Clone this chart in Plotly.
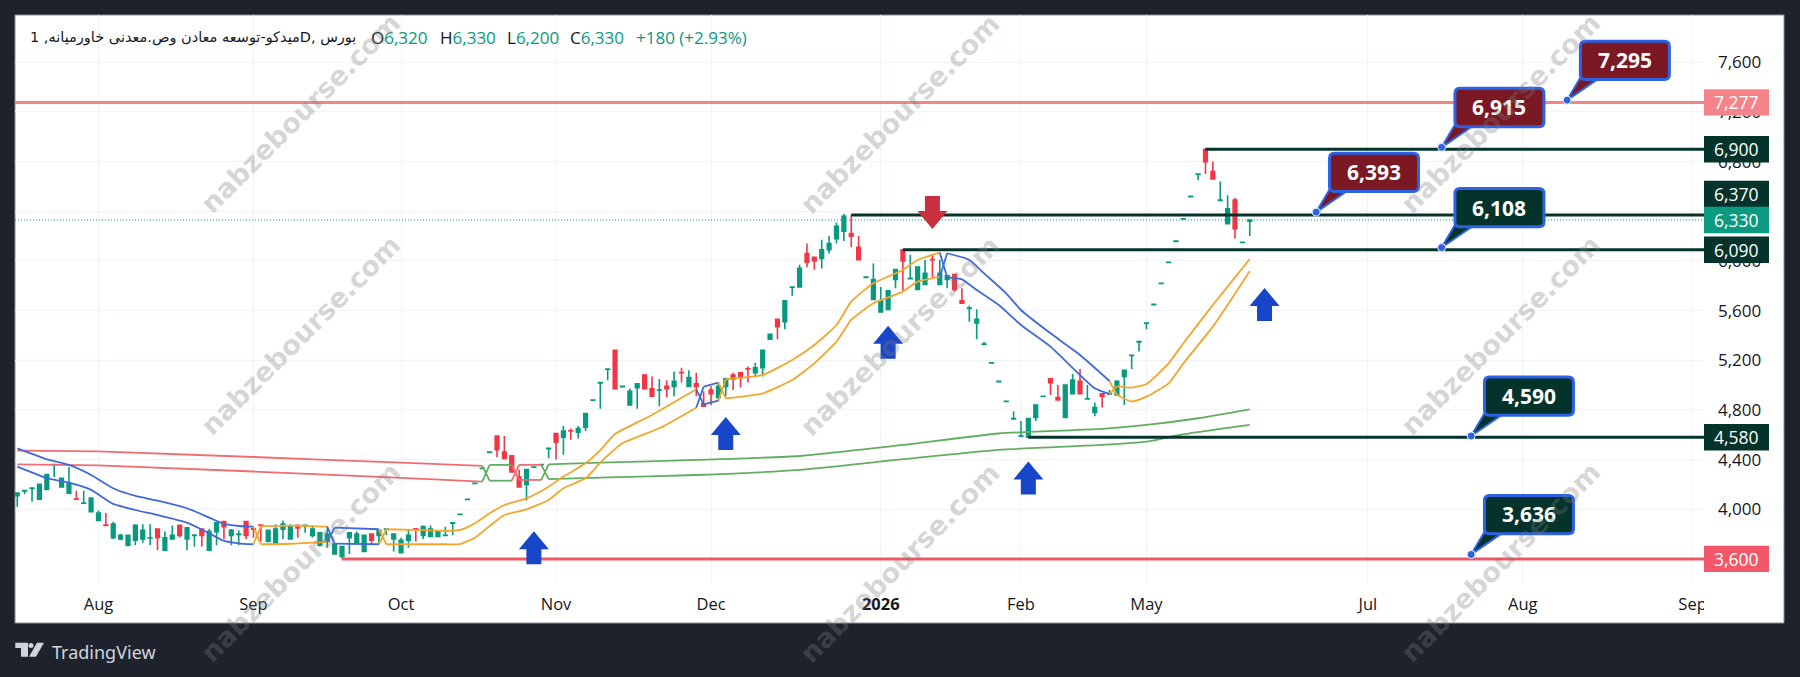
import plotly.graph_objects as go

# Daily OHLC, one value per session
opens = [4110,4148,4168,4080,4160,4358,4180,4130,4082,4048,
         3980,3910,3872,3770,3760,3710,3750,3760,3768,3840,
         3670,3760,3870,3760,3788,3840,3670,3820,3900,3790,
         3798,3900,3842,3872,3740,3730,3840,3760,3870,3868,
         3790,3710,3740,3640,3620,3770,3730,3660,3800,3790,
         3838,3760,3650,3750,3842,3790,3780,3780,3788,3888,
         3958,4078,4208,4328,4458,4590,4460,4430,4260,4200,
         4338,4358,4488,4610,4580,4632,4620,4660,4878,5018,
         5128,5280,4988,4840,4980,5080,4970,4958,4990,4990,
         5102,4990,5010,4850,4960,4900,4990,5080,5100,5132,
         5100,5140,5370,5530,5510,5788,5790,6060,6030,6020,
         6090,6180,6240,6220,6110,5868,5690,5590,5610,5850,
         6090,5858,5770,5810,6012,5810,5850,5890,5680,5618,
         5500,5328,5178,5028,4868,4728,4588,4580,4740,4908,
         5050,4900,4740,4930,5030,4888,4780,4930,4928,4920,
         5070,5238,5348,5498,5648,5818,5988,6158,6338,6518,
         6698,6900,6720,6488,6300,6490,6148,6320]
highs = [4130,4150,4170,4200,4280,4360,4250,4340,4150,4150,
         4090,3990,3970,3900,3800,3790,3880,3880,3880,3840,
         3820,3870,3870,3850,3800,3840,3840,3890,3900,3840,
         3830,3900,3860,3880,3830,3880,3910,3880,3870,3870,
         3870,3810,3860,3720,3700,3810,3820,3790,3800,3830,
         3840,3800,3770,3840,3850,3870,3870,3820,3860,3890,
         3960,4080,4210,4330,4460,4590,4590,4430,4320,4320,
         4340,4360,4490,4610,4670,4650,4670,4770,4880,5020,
         5130,5280,4990,4970,5010,5090,5070,5050,5040,5110,
         5140,5120,5100,4950,4990,5020,5060,5100,5100,5150,
         5180,5280,5410,5530,5680,5790,5970,6140,6030,6170,
         6200,6310,6380,6370,6200,5870,5980,5790,5760,5930,
         6090,6050,5950,6010,6050,6010,5880,5890,5780,5640,
         5610,5350,5180,5030,4870,4790,4710,4730,4840,4910,
         5050,5000,5000,5090,5130,5000,4860,4930,4960,5040,
         5120,5240,5350,5500,5650,5820,5990,6160,6340,6520,
         6700,6900,6800,6640,6530,6510,6150,6330]
lows = [4020,4120,4060,4080,4160,4260,4180,4130,4080,4048,
        3980,3910,3870,3760,3750,3700,3710,3730,3710,3670,
        3670,3760,3770,3670,3700,3700,3670,3710,3760,3710,
        3710,3760,3770,3740,3740,3710,3760,3760,3770,3810,
        3770,3700,3690,3640,3600,3640,3730,3660,3720,3720,
        3790,3660,3650,3690,3740,3760,3780,3780,3788,3790,
        3958,4078,4208,4328,4458,4420,4410,4300,4180,4070,
        4338,4358,4410,4400,4440,4560,4570,4630,4878,4810,
        5040,4970,4988,4840,4810,4970,4910,4830,4900,4910,
        5020,4990,4910,4830,4840,4870,4910,4960,4980,5020,
        5070,5070,5370,5370,5450,5720,5790,5950,5930,5940,
        6060,6140,6160,6110,6010,5868,5690,5590,5610,5780,
        5760,5858,5770,5810,5870,5810,5780,5750,5660,5510,
        5370,5328,5178,5028,4868,4728,4588,4580,4710,4908,
        4920,4880,4740,4930,4930,4888,4750,4820,4928,4920,
        4840,5130,5270,5450,5648,5818,5988,6158,6338,6518,
        6650,6700,6660,6488,6300,6180,6148,6200]
closes = [4130,4150,4170,4200,4280,4360,4250,4210,4080,4050,
          4090,3970,3870,3880,3790,3790,3870,3830,3770,3770,
          3770,3790,3790,3850,3790,3790,3820,3890,3860,3830,
          3800,3790,3840,3870,3830,3840,3880,3860,3850,3870,
          3840,3810,3800,3720,3700,3810,3800,3790,3750,3830,
          3840,3800,3750,3790,3840,3860,3840,3820,3790,3890,
          3960,4080,4210,4330,4460,4480,4410,4300,4180,4320,
          4340,4360,4490,4540,4630,4630,4650,4770,4880,5020,
          5130,4970,4990,4950,5010,4970,4910,4960,4970,5030,
          5100,5060,4990,4830,4930,4990,5050,5050,5070,5130,
          5140,5280,5410,5470,5680,5790,5940,5990,6000,6090,
          6140,6280,6360,6200,6010,5870,5850,5680,5760,5930,
          6000,5860,5950,5900,6010,5900,5880,5770,5660,5620,
          5530,5330,5180,5030,4870,4730,4590,4730,4840,4910,
          5020,4880,5000,5040,4930,4890,4820,4910,4930,5030,
          5120,5240,5350,5500,5650,5820,5990,6160,6340,6520,
          6700,6800,6660,6490,6420,6260,6150,6330]
bar_index = list(range(len(opens)))

# Axis ticks
month_bars = [11, 32, 52, 73, 94, 117, 136, 153, 183, 204, 227]
month_labels = ["Aug", "Sep", "Oct", "Nov", "Dec", "<b>2026</b>", "Feb", "May", "Jul", "Aug", "Sep"]
price_ticks = [7600, 7200, 6800, 6400, 6000, 5600, 5200, 4800, 4400, 4000]

# Slow channel (two lines, colour follows trend)
RED_BAND, GREEN_BAND, BLUE_BAND, ORANGE_BAND = "#ee6d72", "#62ad62", "#4169dd", "#f3a62b"
slow_segments = [
    (RED_BAND, [0, 11, 32, 52, 63], [4472, 4466, 4421, 4375, 4349]),
    (RED_BAND, [0, 11, 32, 52, 63], [4361, 4353, 4304, 4252, 4222]),
    (GREEN_BAND, [63, 64, 67], [4349, 4230, 4230]),
    (GREEN_BAND, [63, 64, 67], [4222, 4357, 4357]),
    (RED_BAND, [67, 68, 71], [4230, 4357, 4357]),
    (RED_BAND, [67, 68, 71], [4357, 4236, 4236]),
    (GREEN_BAND, [71, 72, 79, 92, 106, 120, 133, 147, 153, 157, 163, 167],
     [4357, 4242, 4255, 4276, 4317, 4403, 4478, 4518, 4544, 4593, 4647, 4679]),
    (GREEN_BAND, [71, 72, 79, 92, 106, 120, 133, 147, 153, 160, 167],
     [4236, 4362, 4375, 4397, 4429, 4518, 4610, 4647, 4679, 4733, 4805]),
]

# Fast channel
fast_segments = [
    (BLUE_BAND, [0, 4, 7, 10, 13, 16, 19, 23, 26, 28, 30, 32],
     [4491, 4402, 4357, 4276, 4169, 4107, 4070, 4008, 3933, 3882, 3865, 3860]),
    (BLUE_BAND, [0, 4, 7, 10, 13, 16, 19, 23, 26, 28, 30, 32],
     [4343, 4249, 4214, 4156, 4043, 3994, 3954, 3892, 3806, 3745, 3726, 3718]),
    (ORANGE_BAND, [32, 33, 37, 42], [3860, 3718, 3722, 3737]),
    (ORANGE_BAND, [32, 33, 37, 42], [3718, 3863, 3868, 3860]),
    (BLUE_BAND, [42, 43, 49], [3737, 3852, 3839]),
    (BLUE_BAND, [42, 43, 49], [3860, 3723, 3718]),
    (ORANGE_BAND, [49, 50, 55, 58, 60, 62, 64, 66, 69, 72, 74, 77, 79, 81, 86, 92],
     [3718, 3839, 3832, 3825, 3833, 3887, 3967, 4034, 4088, 4182, 4263, 4370, 4477, 4606, 4759, 4966]),
    (ORANGE_BAND, [49, 50, 55, 58, 60, 62, 64, 66, 69, 72, 74, 77, 79, 82, 87, 92],
     [3839, 3718, 3718, 3718, 3720, 3771, 3865, 3954, 3999, 4075, 4169, 4249, 4375, 4531, 4652, 4818]),
    (BLUE_BAND, [92, 93, 95], [4818, 4988, 5020]),
    (BLUE_BAND, [92, 93, 95], [4966, 4845, 4875]),
    (ORANGE_BAND, [95, 96, 101, 105, 108, 111, 113, 116, 120, 122, 125],
     [5020, 4894, 4934, 5041, 5175, 5350, 5525, 5659, 5753, 5833, 5874]),
    (ORANGE_BAND, [95, 96, 101, 105, 108, 111, 113, 116, 120, 122, 125],
     [4875, 5047, 5082, 5202, 5323, 5484, 5672, 5820, 5927, 6008, 6067]),
    (BLUE_BAND, [125, 126, 129, 131, 134, 136, 140, 144, 148],
     [5874, 6062, 6008, 5900, 5739, 5605, 5417, 5243, 5033]),
    (BLUE_BAND, [125, 126, 128, 130, 133, 136, 140, 146, 148],
     [6067, 5868, 5852, 5766, 5645, 5484, 5310, 4974, 4928]),
    (ORANGE_BAND, [148, 149, 151, 153, 156, 158, 162, 164, 167],
     [5033, 4920, 4868, 4907, 5014, 5175, 5471, 5645, 5919]),
    (ORANGE_BAND, [148, 149, 151, 153, 156, 158, 162, 164, 167],
     [4928, 4990, 4980, 5009, 5175, 5337, 5645, 5793, 6016]),
]

# Horizontal levels drawn from a pivot bar to the price scale
DEEP_GREEN = "#03332b"
level_values = [7277, 6900, 6370, 6090, 4580, 3600]
level_starts = [-1, 161, 113, 120, 137, 44]
level_colors = ["#f0858a", DEEP_GREEN, DEEP_GREEN, DEEP_GREEN, DEEP_GREEN, "#ef5666"]
last_close = closes[-1]

# Price-scale tags (value, fill, upward nudge in px where tags would collide)
tag_values = [7277, 6900, 6370, 6330, 6090, 4580, 3600]
tag_fills = ["#f5848a", DEEP_GREEN, DEEP_GREEN, "#0b9a80", DEEP_GREEN, DEEP_GREEN, "#f2586a"]
tag_nudges = [0, 0, 21, 0, 0, 0, 0]

# Callouts on the projected levels
callout_bars = [210, 193, 176, 193, 197, 197]
callout_values = [7295, 6915, 6393, 6108, 4590, 3636]
callout_fills = ["#7a1823", "#7a1823", "#7a1823", DEEP_GREEN, DEEP_GREEN, DEEP_GREEN]

# Signal arrows
up_arrow_bars = [70, 96, 118, 137, 169]
up_arrow_prices = [3690, 4610, 5345, 4252, 5650]
down_arrow_bars = [124]
down_arrow_prices = [6390]

# Header line
symbol_title = "میدکو-توسعه معادن وص.معدنی خاورمیانه, 1D, بورس"
ohlc_letters = ["O", "H", "L", "C"]
ohlc_texts = ["6,320", "6,330", "6,200", "6,330"]
change_text = "+180 (+2.93%)"

WIDTH, HEIGHT = 1800, 677
PLOT_L, PLOT_R, PLOT_T, PLOT_B = 15, 1704, 15, 583
X_RANGE = [-0.31, 228.55]
Y_RANGE = [3406, 7981]
GREEN, RED = "#089981", "#f23645"
TEXT = "#131722"
TICK_FONT = "Open Sans"
BLOCK_FONT = "DejaVu Sans"


def px(x):
    return (x - PLOT_L) / (PLOT_R - PLOT_L)


def py(y):
    return (PLOT_B - y) / (PLOT_B - PLOT_T)


fig = go.Figure()

fig.add_trace(go.Candlestick(
    x=bar_index, open=opens, high=highs, low=lows, close=closes,
    increasing=dict(line=dict(color=GREEN, width=1.6), fillcolor=GREEN),
    decreasing=dict(line=dict(color=RED, width=1.6), fillcolor=RED),
    showlegend=False, hoverinfo="skip",
))

# Each channel segment opens with a straight swap between the two lines, then curves
for color, idx, vals in slow_segments + fast_segments:
    fig.add_trace(go.Scatter(
        x=idx[:2], y=vals[:2], mode="lines", showlegend=False, hoverinfo="skip",
        line=dict(color=color, width=1.8),
    ))
    fig.add_trace(go.Scatter(
        x=idx[1:], y=vals[1:], mode="lines", showlegend=False, hoverinfo="skip",
        line=dict(color=color, width=1.8, shape="spline", smoothing=0.5),
    ))

fig.add_trace(go.Scatter(
    x=X_RANGE, y=[last_close, last_close], mode="lines", showlegend=False, hoverinfo="skip",
    line=dict(color=GREEN, width=1, dash="1px 2px"),
))
for value, start, color in zip(level_values, level_starts, level_colors):
    fig.add_trace(go.Scatter(
        x=[start, X_RANGE[1]], y=[value, value], mode="lines", showlegend=False, hoverinfo="skip",
        line=dict(color=color, width=3),
    ))

shapes = [
    # white chart panel on the dark page
    dict(type="rect", layer="below", xref="paper", yref="paper",
         x0=px(15), x1=px(1784), y0=py(623), y1=py(15),
         fillcolor="white", line=dict(color="#8b8e96", width=1)),
    # the status line sits on a clean background
    dict(type="rect", layer="between", xref="paper", yref="paper",
         x0=px(25), x1=px(770), y0=py(80), y1=py(16),
         fillcolor="white", line=dict(width=0)),
    # time scale stops at the price scale
    dict(type="rect", layer="above", xref="paper", yref="paper",
         x0=px(1704), x1=px(1783), y0=py(622), y1=py(584),
         fillcolor="white", line=dict(width=0)),
]


def rounded_box(x0, x1, y0, y1, r=5):
    return (f"M{x0 + r},{y0} L{x1 - r},{y0} Q{x1},{y0} {x1},{y0 + r} L{x1},{y1 - r} "
            f"Q{x1},{y1} {x1 - r},{y1} L{x0 + r},{y1} Q{x0},{y1} {x0},{y1 - r} "
            f"L{x0},{y0 + r} Q{x0},{y0} {x0 + r},{y0} Z")


BORDER = "#2e62e6"
annotations = []
for bar, value, fill in zip(callout_bars, callout_values, callout_fills):
    anchor = dict(type="path", layer="above", xref="x", yref="y",
                  xsizemode="pixel", ysizemode="pixel", xanchor=bar, yanchor=value)
    shapes.append(dict(anchor, path="M0,0 L13,22 L32,22 Z", fillcolor=fill,
                       line=dict(color=BORDER, width=2)))
    shapes.append(dict(anchor, path=rounded_box(13.3, 102.3, 20.7, 59), fillcolor=fill,
                       line=dict(color=BORDER, width=3)))
    shapes.append(dict(type="circle", layer="above", xref="x", yref="y",
                       xsizemode="pixel", ysizemode="pixel", xanchor=bar, yanchor=value,
                       x0=-4, x1=4, y0=-4, y1=4, fillcolor=BORDER,
                       line=dict(color="#e8eeff", width=1)))
    annotations.append(dict(xref="x", yref="y", x=bar, y=value, xshift=57.8, yshift=40,
                            text=f"<b>{value:,}</b>", showarrow=False,
                            font=dict(family=TICK_FONT, size=21, color="white")))

UP_PATH = "M0,16.5 L15,-1.5 L7.5,-1.5 L7.5,-16.5 L-7.5,-16.5 L-7.5,-1.5 L-15,-1.5 Z"
DOWN_PATH = "M0,-16.5 L15,1.5 L7.5,1.5 L7.5,16.5 L-7.5,16.5 L-7.5,1.5 L-15,1.5 Z"
for bar, price in zip(up_arrow_bars, up_arrow_prices):
    shapes.append(dict(type="path", layer="above", xref="x", yref="y", xsizemode="pixel",
                       ysizemode="pixel", xanchor=bar, yanchor=price, path=UP_PATH,
                       fillcolor="#1846c8", line=dict(width=0)))
for bar, price in zip(down_arrow_bars, down_arrow_prices):
    shapes.append(dict(type="path", layer="above", xref="x", yref="y", xsizemode="pixel",
                       ysizemode="pixel", xanchor=bar, yanchor=price, path=DOWN_PATH,
                       fillcolor="#c9303f", line=dict(width=0)))

# Tags on the price scale
for value, fill, nudge in zip(tag_values, tag_fills, tag_nudges):
    shapes.append(dict(type="rect", layer="above", xref="paper", yref="y", ysizemode="pixel",
                       yanchor=value, x0=px(1704), x1=px(1769), y0=nudge - 13.2, y1=nudge + 13.2,
                       fillcolor=fill, line=dict(width=0)))
    annotations.append(dict(xref="paper", yref="y", x=px(1736.5), y=value, yshift=nudge,
                            text=f"{value:,}", showarrow=False, xanchor="center",
                            font=dict(family=TICK_FONT, size=17.5, color="white")))

# Brand mark in the footer
LOGO = "#d1d4dc"
shapes.append(dict(type="path", layer="above", xref="paper", yref="paper",
                   path=(f"M{px(15.3)},{py(642.7)} L{px(28)},{py(642.7)} L{px(28)},{py(656.7)} "
                         f"L{px(21)},{py(656.7)} L{px(21)},{py(648)} L{px(15.3)},{py(648)} Z"),
                   fillcolor=LOGO, line=dict(width=0)))
shapes.append(dict(type="circle", layer="above", xref="paper", yref="paper",
                   x0=px(28.5), x1=px(33.5), y0=py(648), y1=py(643), fillcolor=LOGO, line=dict(width=0)))
shapes.append(dict(type="path", layer="above", xref="paper", yref="paper",
                   path=(f"M{px(37)},{py(642.7)} L{px(44)},{py(642.7)} L{px(36)},{py(656.7)} "
                         f"L{px(29)},{py(656.7)} Z"),
                   fillcolor=LOGO, line=dict(width=0)))
annotations.append(dict(xref="paper", yref="paper", x=px(50), y=py(651.5), xanchor="left",
                        yanchor="middle", showarrow=False, text="TradingView",
                        font=dict(family="Noto Sans", size=18, color=LOGO)))

# Status line
annotations.append(dict(xref="paper", yref="paper", x=px(28), y=py(37.5), xanchor="left",
                        yanchor="middle", showarrow=False, text=symbol_title,
                        font=dict(family=BLOCK_FONT, size=14.5, color=TEXT)))
for x_pos, letter, text in zip([369, 438, 505, 568], ohlc_letters, ohlc_texts):
    annotations.append(dict(xref="paper", yref="paper", x=px(x_pos), y=py(37.5), xanchor="left",
                            yanchor="middle", showarrow=False,
                            text=f'{letter}<span style="color:{GREEN}">{text}</span>',
                            font=dict(family=TICK_FONT, size=17, color=TEXT)))
annotations.append(dict(xref="paper", yref="paper", x=px(634), y=py(37.5), xanchor="left",
                        yanchor="middle", showarrow=False, text=change_text,
                        font=dict(family=TICK_FONT, size=17, color=GREEN)))

# Site watermark repeated over the page
for wx in [300, 900, 1500]:
    for wy in [113, 335, 562]:
        annotations.append(dict(xref="paper", yref="paper", x=px(wx), y=py(wy),
                                xanchor="center", yanchor="middle", showarrow=False,
                                text="<b>nabzebourse.com</b>", textangle=-45,
                                font=dict(family=BLOCK_FONT, size=27, color="rgba(125,125,125,0.32)")))

fig.update_layout(
    width=WIDTH, height=HEIGHT, autosize=False,
    margin=dict(l=PLOT_L, r=WIDTH - PLOT_R, t=PLOT_T, b=HEIGHT - PLOT_B, pad=0),
    paper_bgcolor="#1e222d", plot_bgcolor="rgba(0,0,0,0)",
    boxgap=0.3, showlegend=False, shapes=shapes, annotations=annotations,
    xaxis=dict(range=X_RANGE, rangeslider=dict(visible=False), tickmode="array",
               tickvals=month_bars, ticktext=month_labels, ticks="", showline=False,
               zeroline=False, showgrid=True, gridcolor="#f0f3fa", gridwidth=1,
               tickfont=dict(family=TICK_FONT, size=16.5, color=TEXT), ticklabelstandoff=9),
    yaxis=dict(range=Y_RANGE, side="right", tickmode="array", tickvals=price_ticks,
               tickformat=",d", ticks="", showline=False, zeroline=False, showgrid=True,
               gridcolor="#f0f3fa", gridwidth=1,
               tickfont=dict(family=TICK_FONT, size=17, color=TEXT), ticklabelstandoff=13),
)

fig.write_html("out.html", config={"displayModeBar": False})
